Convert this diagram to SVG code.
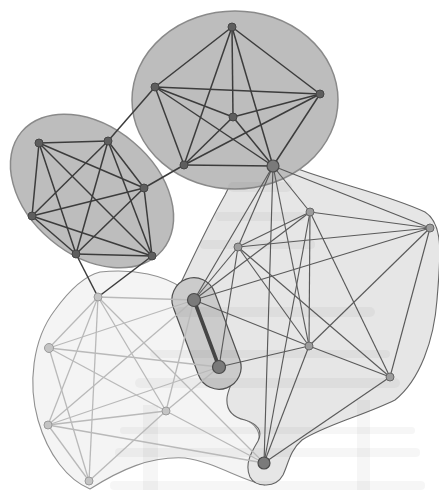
<svg xmlns="http://www.w3.org/2000/svg" width="439" height="490" viewBox="0 0 439 490">
<style>
.wm{fill:#000;opacity:0.035}
.blobTop{fill:#bdbdbd;stroke:#8a8a8a;stroke-width:1.5}
.blobC{fill:#e6e6e6;stroke:#666;stroke-width:1.1}
.blobD{fill:#f4f4f4;stroke:#909090;stroke-width:1.1}
.blobE{fill:#cbcbcb;stroke:#505050;stroke-width:1.2}
.ed{stroke:#3c3c3c;stroke-width:1.5;fill:none}
.er{stroke:#5a5a5a;stroke-width:1.15;fill:none}
.el{stroke:#b9b9b9;stroke-width:1.3;fill:none}
.thick{stroke:#454545;stroke-width:3.6;fill:none;stroke-linecap:round}
.nd{fill:#5e5e5e;stroke:#444;stroke-width:1}
.nb{fill:#7a7a7a;stroke:#4a4a4a;stroke-width:1.2}
.nr{fill:#9c9c9c;stroke:#666;stroke-width:1}
.nl{fill:#c4c4c4;stroke:#9a9a9a;stroke-width:1}
</style>
<rect width="439" height="490" fill="#fff"/>
<g id="clusters">
  <path id="blobD" class="blobD" d="M100,272 C135,268 165,276 182,288 L236,374 C229,392 228,410 242,418 C256,424 263,432 257,447 C250,462 250,478 265,485 C240,480 215,462 185,458 C150,456 120,470 90,489 C68,480 48,455 38,420 C28,385 32,340 55,310 C68,292 84,276 100,272 Z"/>
  <path id="blobC" class="blobC" d="M250,140 C265,150 275,158 290,166 C330,182 390,195 425,212 C445,225 440,260 437,300 C434,340 420,380 395,400 C365,415 325,425 302,440 C290,450 288,465 283,475 C276,488 256,488 250,477 C244,464 252,451 258,441 C263,431 258,424 245,420 C232,417 226,410 227,398 C228,388 234,382 233,372 L175,295 C185,275 205,230 225,195 C235,175 242,160 250,140 Z"/>
  <ellipse id="blobTop" class="blobTop" cx="235" cy="100" rx="103" ry="89"/>
  <ellipse id="blobLeft" class="blobTop" cx="92" cy="191" rx="92" ry="64" transform="rotate(40 92 191)"/>
  <rect id="blobPair" class="blobE" x="148.5" y="311.5" width="116" height="44" rx="22" transform="rotate(69.5 206.5 333.5)"/>
</g>
<g id="watermark">
  <rect class="wm" x="228" y="182" width="64" height="10" rx="5"/>
  <rect class="wm" x="215" y="212" width="90" height="9" rx="4"/>
  <rect class="wm" x="200" y="240" width="115" height="9" rx="4"/>
  <rect class="wm" x="175" y="307" width="200" height="10" rx="5"/>
  <rect class="wm" x="150" y="350" width="240" height="8" rx="4"/>
  <rect class="wm" x="135" y="378" width="265" height="10" rx="5"/>
  <rect class="wm" x="120" y="427" width="295" height="7" rx="3"/>
  <rect class="wm" x="115" y="448" width="305" height="9" rx="4"/>
  <rect class="wm" x="110" y="481" width="315" height="9" rx="4"/>
  <rect class="wm" x="143" y="405" width="15" height="85"/>
  <rect class="wm" x="357" y="400" width="13" height="90"/>
</g>
<g id="connectors">
  <line class="ed" x1="232" y1="27" x2="155" y2="87"/>
  <line class="ed" x1="232" y1="27" x2="320" y2="94"/>
  <line class="ed" x1="232" y1="27" x2="233" y2="117"/>
  <line class="ed" x1="232" y1="27" x2="184" y2="165"/>
  <line class="ed" x1="232" y1="27" x2="273" y2="166"/>
  <line class="ed" x1="155" y1="87" x2="320" y2="94"/>
  <line class="ed" x1="155" y1="87" x2="233" y2="117"/>
  <line class="ed" x1="155" y1="87" x2="184" y2="165"/>
  <line class="ed" x1="155" y1="87" x2="273" y2="166"/>
  <line class="ed" x1="320" y1="94" x2="233" y2="117"/>
  <line class="ed" x1="320" y1="94" x2="184" y2="165"/>
  <line class="ed" x1="320" y1="94" x2="273" y2="166"/>
  <line class="ed" x1="233" y1="117" x2="184" y2="165"/>
  <line class="ed" x1="233" y1="117" x2="273" y2="166"/>
  <line class="ed" x1="184" y1="165" x2="273" y2="166"/>
  <line class="ed" x1="39" y1="143" x2="108" y2="141"/>
  <line class="ed" x1="39" y1="143" x2="144" y2="188"/>
  <line class="ed" x1="39" y1="143" x2="32" y2="216"/>
  <line class="ed" x1="39" y1="143" x2="76" y2="254"/>
  <line class="ed" x1="39" y1="143" x2="152" y2="256"/>
  <line class="ed" x1="108" y1="141" x2="144" y2="188"/>
  <line class="ed" x1="108" y1="141" x2="32" y2="216"/>
  <line class="ed" x1="108" y1="141" x2="76" y2="254"/>
  <line class="ed" x1="108" y1="141" x2="152" y2="256"/>
  <line class="ed" x1="144" y1="188" x2="32" y2="216"/>
  <line class="ed" x1="144" y1="188" x2="76" y2="254"/>
  <line class="ed" x1="144" y1="188" x2="152" y2="256"/>
  <line class="ed" x1="32" y1="216" x2="76" y2="254"/>
  <line class="ed" x1="32" y1="216" x2="152" y2="256"/>
  <line class="ed" x1="76" y1="254" x2="152" y2="256"/>
  <line class="ed" x1="108" y1="141" x2="155" y2="87"/>
  <line class="ed" x1="144" y1="188" x2="184" y2="165"/>
  <line class="ed" x1="76" y1="254" x2="98" y2="297"/>
  <line class="ed" x1="152" y1="256" x2="98" y2="297"/>
  <line class="el" x1="98" y1="297" x2="49" y2="348"/>
  <line class="el" x1="98" y1="297" x2="48" y2="425"/>
  <line class="el" x1="98" y1="297" x2="89" y2="481"/>
  <line class="el" x1="98" y1="297" x2="166" y2="411"/>
  <line class="el" x1="98" y1="297" x2="194" y2="300"/>
  <line class="el" x1="98" y1="297" x2="264" y2="463"/>
  <line class="el" x1="49" y1="348" x2="89" y2="481"/>
  <line class="el" x1="49" y1="348" x2="166" y2="411"/>
  <line class="el" x1="49" y1="348" x2="194" y2="300"/>
  <line class="el" x1="49" y1="348" x2="219" y2="367"/>
  <line class="el" x1="48" y1="425" x2="89" y2="481"/>
  <line class="el" x1="48" y1="425" x2="166" y2="411"/>
  <line class="el" x1="48" y1="425" x2="194" y2="300"/>
  <line class="el" x1="48" y1="425" x2="219" y2="367"/>
  <line class="el" x1="48" y1="425" x2="264" y2="463"/>
  <line class="el" x1="89" y1="481" x2="166" y2="411"/>
  <line class="el" x1="166" y1="411" x2="194" y2="300"/>
  <line class="el" x1="166" y1="411" x2="219" y2="367"/>
  <line class="el" x1="166" y1="411" x2="264" y2="463"/>
  <line class="er" x1="273" y1="166" x2="310" y2="212"/>
  <line class="er" x1="273" y1="166" x2="430" y2="228"/>
  <line class="er" x1="273" y1="166" x2="238" y2="247"/>
  <line class="er" x1="273" y1="166" x2="194" y2="300"/>
  <line class="er" x1="273" y1="166" x2="309" y2="346"/>
  <line class="er" x1="273" y1="166" x2="264" y2="463"/>
  <line class="er" x1="310" y1="212" x2="430" y2="228"/>
  <line class="er" x1="310" y1="212" x2="238" y2="247"/>
  <line class="er" x1="310" y1="212" x2="194" y2="300"/>
  <line class="er" x1="310" y1="212" x2="309" y2="346"/>
  <line class="er" x1="310" y1="212" x2="390" y2="377"/>
  <line class="er" x1="310" y1="212" x2="264" y2="463"/>
  <line class="er" x1="238" y1="247" x2="430" y2="228"/>
  <line class="er" x1="238" y1="247" x2="194" y2="300"/>
  <line class="er" x1="238" y1="247" x2="219" y2="367"/>
  <line class="er" x1="238" y1="247" x2="309" y2="346"/>
  <line class="er" x1="238" y1="247" x2="390" y2="377"/>
  <line class="er" x1="430" y1="228" x2="194" y2="300"/>
  <line class="er" x1="430" y1="228" x2="309" y2="346"/>
  <line class="er" x1="430" y1="228" x2="390" y2="377"/>
  <line class="er" x1="194" y1="300" x2="309" y2="346"/>
  <line class="er" x1="219" y1="367" x2="309" y2="346"/>
  <line class="er" x1="309" y1="346" x2="390" y2="377"/>
  <line class="er" x1="309" y1="346" x2="264" y2="463"/>
  <line class="er" x1="390" y1="377" x2="264" y2="463"/>
  <line class="thick" x1="194" y1="300" x2="219" y2="367"/>
</g>
<g id="T1"><circle class="nd" cx="232" cy="27" r="4"/></g>
<g id="T2"><circle class="nd" cx="155" cy="87" r="4"/></g>
<g id="T3"><circle class="nd" cx="320" cy="94" r="4"/></g>
<g id="T4"><circle class="nd" cx="233" cy="117" r="4"/></g>
<g id="T5"><circle class="nd" cx="184" cy="165" r="4"/></g>
<g id="T6"><circle class="nb" cx="273" cy="166" r="6"/></g>
<g id="L1"><circle class="nd" cx="39" cy="143" r="4"/></g>
<g id="L2"><circle class="nd" cx="108" cy="141" r="4"/></g>
<g id="L3"><circle class="nd" cx="144" cy="188" r="4"/></g>
<g id="L4"><circle class="nd" cx="32" cy="216" r="4"/></g>
<g id="L5"><circle class="nd" cx="76" cy="254" r="4"/></g>
<g id="L6"><circle class="nd" cx="152" cy="256" r="4"/></g>
<g id="B1"><circle class="nl" cx="98" cy="297" r="4"/></g>
<g id="B2"><circle class="nl" cx="49" cy="348" r="4.5"/></g>
<g id="B3"><circle class="nl" cx="48" cy="425" r="4"/></g>
<g id="B4"><circle class="nl" cx="89" cy="481" r="4"/></g>
<g id="B5"><circle class="nl" cx="166" cy="411" r="4"/></g>
<g id="R1"><circle class="nr" cx="310" cy="212" r="4"/></g>
<g id="R2"><circle class="nr" cx="238" cy="247" r="4"/></g>
<g id="R3"><circle class="nr" cx="430" cy="228" r="4"/></g>
<g id="R4"><circle class="nr" cx="309" cy="346" r="4"/></g>
<g id="R5"><circle class="nr" cx="390" cy="377" r="4"/></g>
<g id="R6"><circle class="nb" cx="264" cy="463" r="6"/></g>
<g id="P1"><circle class="nb" cx="194" cy="300" r="6.5"/></g>
<g id="P2"><circle class="nb" cx="219" cy="367" r="6.5"/></g>
</svg>
